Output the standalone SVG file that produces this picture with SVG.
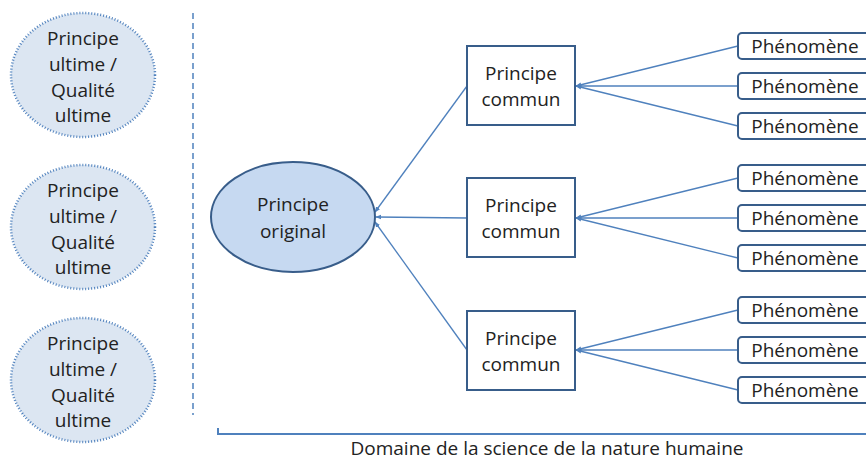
<svg xmlns="http://www.w3.org/2000/svg" width="866" height="462" viewBox="0 0 866 462">
<style>
text{font-family:"Open Sans","Liberation Sans",sans-serif;font-size:19px;fill:#222;text-anchor:middle}
.ult{fill:#dce6f2;stroke:#4f81bd;stroke-width:2.5;stroke-dasharray:1 2}
.orig{fill:#c6d9f1;stroke:#385d8a;stroke-width:2}
.box{fill:#fff;stroke:#385d8a;stroke-width:2}
.ph{fill:#fff;stroke:#385d8a;stroke-width:2}
.c{stroke:#4f81bd;stroke-width:1.3;fill:none;marker-end:url(#a)}
</style>
<defs>
<marker id="a" viewBox="0 0 10 10" refX="9" refY="5" markerWidth="4.5" markerHeight="4.5" orient="auto"><path d="M0,1 L10,5 L0,9 z" fill="#4f81bd"/></marker>
</defs>
<g id="ultime1"><ellipse class="ult" cx="83" cy="75" rx="72" ry="62"/><text x="83" y="45">Principe</text><text x="83" y="71">ultime /</text><text x="83" y="97">Qualité</text><text x="83" y="122">ultime</text></g>
<g id="ultime2"><ellipse class="ult" cx="83" cy="227" rx="72" ry="62"/><text x="83" y="197">Principe</text><text x="83" y="223">ultime /</text><text x="83" y="249">Qualité</text><text x="83" y="274">ultime</text></g>
<g id="ultime3"><ellipse class="ult" cx="83" cy="380" rx="72" ry="62"/><text x="83" y="350">Principe</text><text x="83" y="376">ultime /</text><text x="83" y="402">Qualité</text><text x="83" y="427">ultime</text></g>
<line x1="193" y1="13" x2="193" y2="415" stroke="#4f81bd" stroke-width="1.5" stroke-dasharray="6 4"/>
<g id="connectors">
<line class="c" x1="467" y1="86" x2="375" y2="212"/>
<line class="c" x1="467" y1="218" x2="376" y2="217"/>
<line class="c" x1="467" y1="350" x2="375" y2="222"/>
<line class="c" x1="738" y1="46" x2="576" y2="86"/>
<line class="c" x1="738" y1="86" x2="576" y2="86"/>
<line class="c" x1="738" y1="126" x2="576" y2="86"/>
<line class="c" x1="738" y1="178" x2="576" y2="218"/>
<line class="c" x1="738" y1="218" x2="576" y2="218"/>
<line class="c" x1="738" y1="258" x2="576" y2="218"/>
<line class="c" x1="738" y1="310" x2="576" y2="350"/>
<line class="c" x1="738" y1="350" x2="576" y2="350"/>
<line class="c" x1="738" y1="390" x2="576" y2="350"/>
</g>
<g id="original"><ellipse class="orig" cx="293" cy="217" rx="82" ry="55"/><text x="293" y="211">Principe</text><text x="293" y="238">original</text></g>
<g id="commun1"><rect class="box" x="467" y="46" width="108" height="79"/><text x="521" y="80">Principe</text><text x="521" y="106">commun</text></g>
<g id="commun2"><rect class="box" x="467" y="178" width="108" height="79"/><text x="521" y="212">Principe</text><text x="521" y="238">commun</text></g>
<g id="commun3"><rect class="box" x="467" y="311" width="108" height="79"/><text x="521" y="345">Principe</text><text x="521" y="371">commun</text></g>
<g id="ph1"><rect class="ph" x="738" y="33" width="140" height="26" rx="4"/><text x="805" y="53">Phénomène</text></g>
<g id="ph2"><rect class="ph" x="738" y="73" width="140" height="26" rx="4"/><text x="805" y="93">Phénomène</text></g>
<g id="ph3"><rect class="ph" x="738" y="113" width="140" height="26" rx="4"/><text x="805" y="133">Phénomène</text></g>
<g id="ph4"><rect class="ph" x="738" y="165" width="140" height="26" rx="4"/><text x="805" y="185">Phénomène</text></g>
<g id="ph5"><rect class="ph" x="738" y="205" width="140" height="26" rx="4"/><text x="805" y="225">Phénomène</text></g>
<g id="ph6"><rect class="ph" x="738" y="245" width="140" height="26" rx="4"/><text x="805" y="265">Phénomène</text></g>
<g id="ph7"><rect class="ph" x="738" y="297" width="140" height="26" rx="4"/><text x="805" y="317">Phénomène</text></g>
<g id="ph8"><rect class="ph" x="738" y="337" width="140" height="26" rx="4"/><text x="805" y="357">Phénomène</text></g>
<g id="ph9"><rect class="ph" x="738" y="377" width="140" height="26" rx="4"/><text x="805" y="397">Phénomène</text></g>
<path d="M218,428 V434 H866" fill="none" stroke="#4f81bd" stroke-width="2"/>
<text x="547" y="455">Domaine de la science de la nature humaine</text>
</svg>
